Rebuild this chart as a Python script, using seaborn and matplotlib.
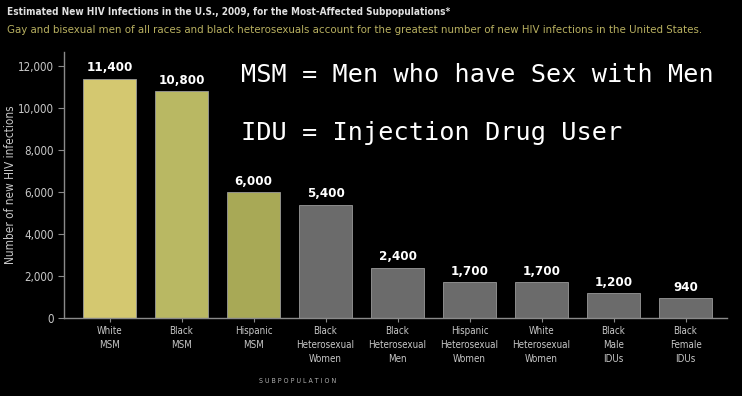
import numpy as np
import pandas as pd
import matplotlib.pyplot as plt
import seaborn as sns

# data
groups = ["White\nMSM", "Black\nMSM", "Hispanic\nMSM",
          "Black\nHeterosexual\nWomen", "Black\nHeterosexual\nMen",
          "Hispanic\nHeterosexual\nWomen", "White\nHeterosexual\nWomen",
          "Black\nMale\nIDUs", "Black\nFemale\nIDUs"]
infections = [11400, 10800, 6000, 5400, 2400, 1700, 1700, 1200, 940]
bar_colors = ["#d4c870", "#b9b863", "#a8a956", "#6b6b6b", "#6b6b6b",
              "#6b6b6b", "#6b6b6b", "#6b6b6b", "#6b6b6b"]
yticks = [0, 2000, 4000, 6000, 8000, 10000, 12000]

df = pd.DataFrame({"group": groups, "n": infections})

sns.set_style("dark")
plt.rcParams["font.family"] = ["DejaVu Sans"]
plt.rcParams["font.stretch"] = "condensed"  # narrow look like the original

fig = plt.figure(figsize=(7.42, 3.96), dpi=100, facecolor="black")
ax = fig.add_axes([64 / 742, 1 - 318 / 396, (727 - 64) / 742, (318 - 52) / 396])
ax.set_facecolor("black")

sns.barplot(data=df, x="group", y="n", hue="group", palette=bar_colors, saturation=1,
            legend=False, width=0.74, edgecolor="#9a9a9a", linewidth=0.6, ax=ax)

ax.set_xlim(-0.632, 8.576)
ax.set_ylim(0, 12670)
ax.set_yticks(yticks)
ax.set_yticklabels([f"{v:,}" for v in yticks])
ax.tick_params(axis="y", colors="#8a8a8a", labelcolor="#c8c8c8", labelsize=8.3, length=4, width=0.8, left=True)
ax.tick_params(axis="x", colors="#8a8a8a", labelcolor="#c8c8c8", labelsize=7, length=3, width=0.8, bottom=True, pad=3)
for lbl in ax.get_xticklabels():
    lbl.set_linespacing(1.45)
ax.grid(False)
for side in ["top", "right"]:
    ax.spines[side].set_visible(False)
for side in ["left", "bottom"]:
    ax.spines[side].set_color("#8a8a8a")
    ax.spines[side].set_linewidth(1)

ax.set_xlabel("")
ax.set_ylabel("Number of new HIV infections", color="#c8c8c8", fontsize=8.5)
ax.yaxis.set_label_coords(-0.071, 0.5)

for i, v in enumerate(infections):
    ax.annotate(f"{v:,}", (i, v), xytext=(0, 3), textcoords="offset points",
                ha="center", va="bottom", color="white", fontsize=9.5, fontweight="bold")

fig.text(298 / 742, 1 - 381 / 396, "S U B P O P U L A T I O N", color="#b0b0b0",
         fontsize=5, ha="center", va="center")

fig.text(7 / 742, 1 - 12 / 396,
         "Estimated New HIV Infections in the U.S., 2009, for the Most-Affected Subpopulations*",
         color="#e0e0e0", fontsize=7.2, fontweight="bold", ha="left", va="center")
fig.text(7 / 742, 1 - 30 / 396,
         "Gay and bisexual men of all races and black heterosexuals account for the greatest number of new HIV infections in the United States.",
         color="#b8b060", fontsize=8.2, ha="left", va="center")

mono = ["DejaVu Sans Mono"]
fig.text(241 / 742, 1 - 75 / 396, "MSM = Men who have Sex with Men", family=mono, stretch="normal",
         color="white", fontsize=18.2, ha="left", va="center")
fig.text(241 / 742, 1 - 133 / 396, "IDU = Injection Drug User", family=mono, stretch="normal",
         color="white", fontsize=18.2, ha="left", va="center")

fig.savefig("out.png", dpi=100, facecolor="black")
